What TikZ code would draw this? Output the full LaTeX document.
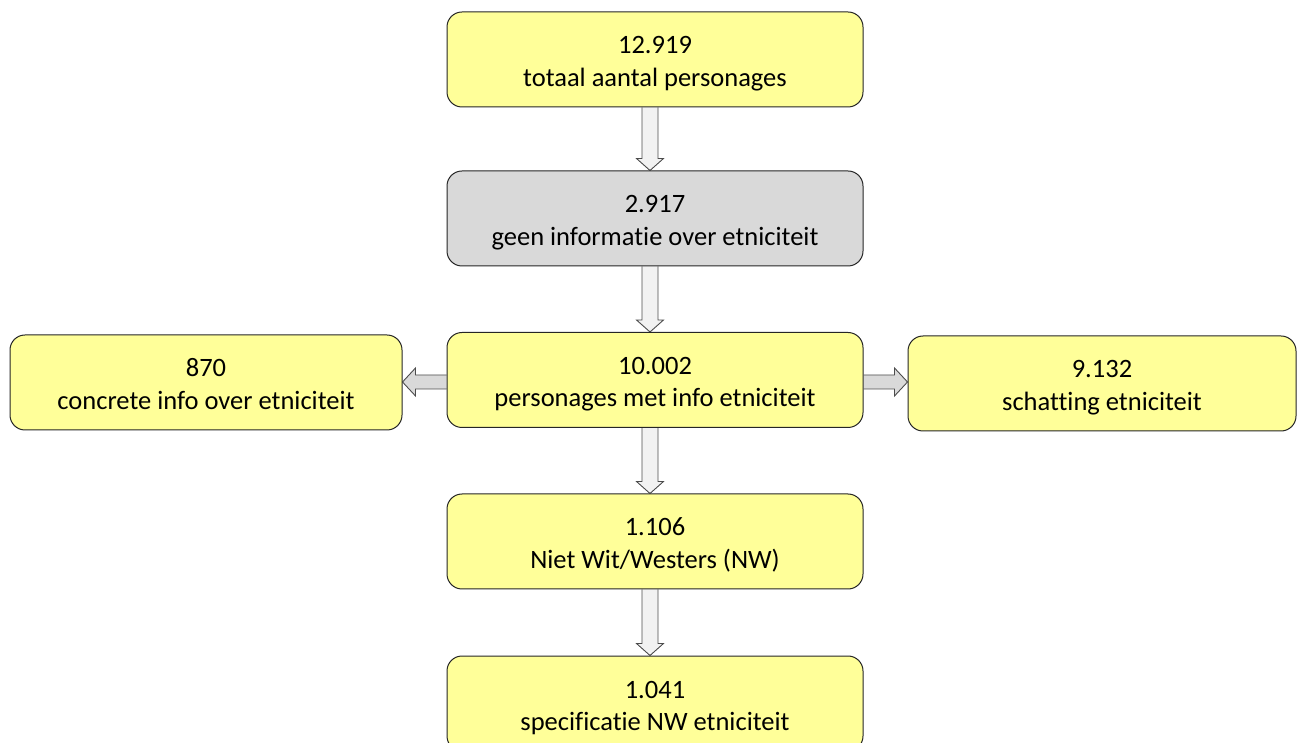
\documentclass[tikz,border=0pt]{standalone}
\usepackage{fontspec}
\setmainfont{Carlito}[Ligatures=NoCommon]
\usetikzlibrary{calc,backgrounds}
\definecolor{boxyellow}{HTML}{FFFF99}
\definecolor{boxgray}{HTML}{D9D9D9}
\definecolor{arrlight}{HTML}{F2F2F2}
\definecolor{arrgray}{HTML}{D9D9D9}
\tikzset{
  stepbox/.style={draw=black!85, line width=1pt, fill=boxyellow, rounded corners=15pt,
    minimum width=416pt, minimum height=95pt, align=center, inner sep=0pt,
    font=\fontsize{26.5pt}{32.5pt}\selectfont},
  graybox/.style={stepbox, fill=boxgray},
  varr/.style={draw=black!70, line width=0.9pt, fill=arrlight, line join=miter},
  harr/.style={draw=black!70, line width=0.9pt, fill=arrgray, line join=miter},
}
\newcommand\toprl{\rule{0pt}{28.5pt}}
\newcommand\botrl{\rule[-7pt]{0pt}{7pt}}
\newcommand\vblockarrow[2]{%
  \filldraw[varr] ($(#1.south)+(-13,0)$) -- ($(#2.north)+(-13,12)$) -- ($(#2.north)+(-18.5,12)$)
   -- ($(#2.north)+(-5,0)$) -- ($(#2.north)+(8.5,12)$) -- ($(#2.north)+(3,12)$) -- ($(#1.south)+(3,0)$);}
\begin{document}
\begin{tikzpicture}[x=1pt,y=1pt]
\useasboundingbox (0,0) rectangle (1301,742);
\clip (0,0) rectangle (1301,742);
\node[stepbox] (total) at (655,682.5) {\toprl 12.919\\totaal aantal personages\botrl};
\node[graybox] (geen) at (655,523.5) {\toprl 2.917\\geen informatie over etniciteit\botrl};
\node[stepbox] (met) at (655,362) {\toprl 10.002\\personages met info etniciteit\botrl};
\node[stepbox, minimum width=392pt] (concreet) at (206,359.5) {\toprl 870\\concrete info over etniciteit\botrl};
\node[stepbox, minimum width=388pt] (schat) at (1102,358.5) {\toprl 9.132\\schatting etniciteit\botrl};
\node[stepbox] (niet) at (655,200.5) {\toprl 1.106\\Niet Wit/Westers (NW)\botrl};
\node[stepbox] (spec) at (655,38.5) {\toprl 1.041\\specificatie NW etniciteit\botrl};
\begin{pgfonlayer}{background}
\vblockarrow{total}{geen}
\vblockarrow{geen}{met}
\vblockarrow{met}{niet}
\vblockarrow{niet}{spec}
\filldraw[harr] ($(met.west)+(0,-9)$) -- ($(concreet.east |- met.west)+(13,-9)$) -- ($(concreet.east |- met.west)+(13,-16)$)
  -- ($(concreet.east |- met.west)+(0,-2)$) -- ($(concreet.east |- met.west)+(13,12)$) -- ($(concreet.east |- met.west)+(13,5)$) -- ($(met.west)+(0,5)$);
\filldraw[harr] ($(met.east)+(0,-9)$) -- ($(schat.west |- met.east)+(-13,-9)$) -- ($(schat.west |- met.east)+(-13,-16)$)
  -- ($(schat.west |- met.east)+(0,-2)$) -- ($(schat.west |- met.east)+(-13,12)$) -- ($(schat.west |- met.east)+(-13,5)$) -- ($(met.east)+(0,5)$);
\end{pgfonlayer}
\end{tikzpicture}
\end{document}
